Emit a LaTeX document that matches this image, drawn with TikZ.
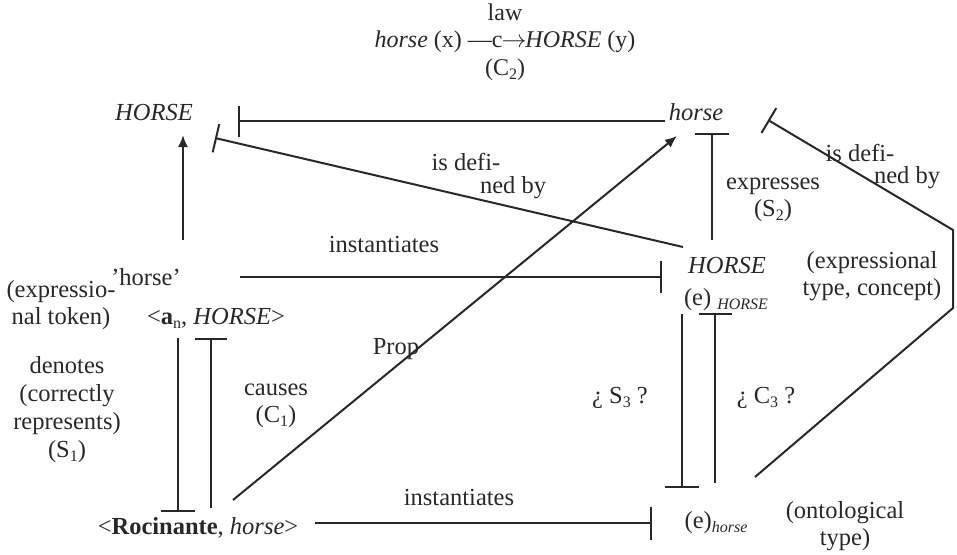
\documentclass[tikz,border=0pt]{standalone}
\usepackage{fontspec}
\setmainfont{Liberation Serif}
\usepackage{tikz}
\usetikzlibrary{arrows.meta}
\definecolor{ink}{RGB}{40,40,40}
\newcommand{\lowsub}[1]{\raisebox{-4pt}{\fontsize{16}{16}\selectfont #1}}

\begin{document}
\begin{tikzpicture}[x=1pt,y=-1pt,
  every node/.style={inner sep=0pt,text=ink,font=\fontsize{24.5}{27}\selectfont},
  conn/.style={draw=ink,line width=2pt},
  tee/.style={conn,-{Bar[width=#1]}},
  tip/.style={conn,-{Latex[length=12pt,width=10pt]}}]
 \useasboundingbox (0,0) rectangle (957,554);
 \node[align=center,font=\fontsize{24}{27.5}\selectfont] (law) at (505,42)
   {law\\ \textit{horse} (x) —c\kern-1pt$\rightarrow$\kern-1pt\textit{HORSE} (y)\\ (C\lowsub{2})};
 \node (HC) at (154,113) {\textit{HORSE}};
 \node (hw) at (696,112) {\textit{horse}};
 \node (tok) at (146,277) {’horse’};
 \node[align=center] (exptok) at (61,305) {(expressio-\\nal token)};
 \node (an) at (216,318) {<\textbf{a}\lowsub{n}, \textit{HORSE}>};
 \node (HC2) at (727,266) {\textit{HORSE}};
 \node (eHC) at (726,300) {(e) \lowsub{\textit{HORSE}}};
 \node (roc) at (198,528) {<\textbf{Rocinante}, \textit{horse}>};
 \node (ehw) at (716,523) {(e)\lowsub{\textit{horse}}};
 \coordinate (rb) at (953,308);
 \coordinate (rt) at (953,230);
 \draw[tip] ([shift={(37,-37)}]tok.center) -- ([shift={(29,22)}]HC.center);
 \draw[tee=31pt] ([shift={(-31,9)}]hw.center) -- ([shift={(84,8)}]HC.center);
 \draw[tee=29pt] ([shift={(-44,-19)}]HC2.center) -- ([shift={(61,25)}]HC.center);
 \draw[tee=34pt] ([shift={(-15,-26)}]HC2.center) -- ([shift={(16,21)}]hw.center);
 \draw[tee=32pt] ([shift={(94,0)}]tok.center) -- ([shift={(-65,11)}]HC2.center);
 \draw[tee=34pt] ([shift={(-38,20)}]an.center) -- ([shift={(-20,-16)}]roc.center);
 \draw[tee=32pt] ([shift={(13,-20)}]roc.center) -- ([shift={(-5,20)}]an.center);
 \draw[tip] ([shift={(35,-28)}]roc.center) -- ([shift={(-19,24)}]hw.center);
 \draw[tee=33pt] ([shift={(117,-5)}]roc.center) -- ([shift={(-64,0)}]ehw.center);
 \draw[tee=34pt] ([shift={(-44,14)}]eHC.center) -- ([shift={(-34,-35)}]ehw.center);
 \draw[tee=33pt] ([shift={(-1,-40)}]ehw.center) -- ([shift={(-11,13)}]eHC.center);
 \draw[tee=29pt] ([shift={(39,-46)}]ehw.center) -- (rb) -- (rt) -- ([shift={(72,8)}]hw.center);
 \node (inst) at (384,245) {instantiates};
 \node (defA) at (466,162) {is defi-};
 \node (defB) at (513,188) {ned by};
 \node[align=center] (expr) at (773,200) {expresses\\(S\lowsub{2})};
 \node (defC) at (860,153) {is defi-};
 \node (defD) at (907,178) {ned by};
 \node[align=center] (exptype) at (872,276) {(expressional\\type, concept)};
 \node[align=center,font=\fontsize{24.5}{28}\selectfont] (den) at (67,410) {denotes\\(correctly\\represents)\\(S\lowsub{1})};
 \node[align=center] (cau) at (276,406) {causes\\(C\lowsub{1})};
 \node (prop) at (396,349) {Prop};
 \node (s3) at (620,398) {¿ S\lowsub{3} ?};
 \node (c3) at (766,398) {¿ C\lowsub{3} ?};
 \node (inst2) at (459,498) {instantiates};
 \node[align=center] (onto) at (845,526) {(ontological\\type)};
\end{tikzpicture}
\end{document}
